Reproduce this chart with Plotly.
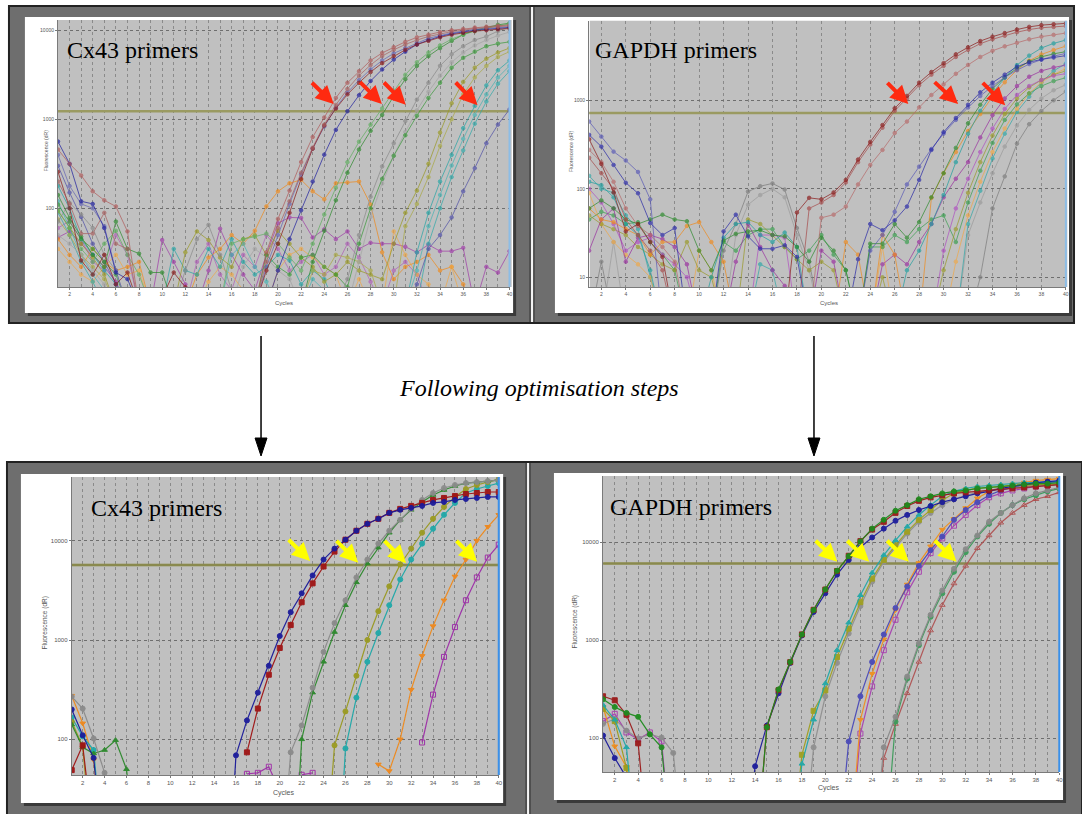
import plotly.graph_objects as go

W, H = 1082, 814
CYCLES = list(range(1, 41))

# ---------------- Top-left: Cx43 primers (before optimisation) ----------------
tl_brown1 = [457, 316, 234, 155, 123, 105, 55, 8, 8, 8,
             8, 8, 8, 8, 8, 8, 8, 8, 32, 76,
             158, 331, 631, 1047, 1738, 2570, 3467, 4571, 5559, 6457,
             7413, 8318, 8913, 9550, 10000, 10350, 10720, 10960, 11220, 11480]
tl_brown2 = [200, 112, 52, 52, 89, 40, 35, 8, 8, 8,
             8, 8, 8, 8, 8, 8, 8, 8, 25, 60,
             120, 250, 480, 870, 1450, 2190, 3090, 4070, 5130, 6030,
             6920, 7760, 8510, 9120, 9660, 10000, 10470, 10720, 10960, 11220]
tl_darkred = [257, 100, 26, 18, 30, 14, 19, 8, 8, 10,
              19, 13, 8, 8, 8, 8, 8, 8, 20, 40,
              89, 214, 468, 851, 1318, 1905, 2570, 3390, 4270, 5130,
              6030, 6920, 7590, 8320, 8910, 9330, 9770, 10000, 10230, 10470]
tl_blue = [562, 316, 120, 112, 60, 19, 16, 8, 8, 8,
           8, 8, 8, 8, 8, 8, 8, 8, 8, 20,
           45, 95, 200, 400, 760, 1230, 1860, 2690, 3630, 4680,
           5750, 6920, 7760, 8510, 9120, 9550, 10000, 10230, 10470, 10720]
tl_indigo = [398, 178, 112, 100, 63, 20, 8, 8, 8, 8,
             8, 8, 8, 8, 8, 8, 8, 8, 22, 50,
             112, 240, 470, 830, 1350, 2000, 2750, 3630, 4570, 5500,
             6310, 7240, 8130, 8710, 9330, 9770, 10230, 10470, 10720, 10960]
tl_green1 = [141, 78, 48, 30, 22, 71, 35, 31, 19, 19,
             8, 8, 8, 8, 8, 8, 8, 8, 8, 8,
             8, 8, 25, 56, 123, 251, 457, 741, 1120, 1820,
             2820, 3980, 5130, 6310, 7590, 8910, 10000, 10720, 11480, 12020]
tl_green2 = [95, 60, 35, 25, 40, 56, 30, 18, 8, 8,
             8, 8, 8, 8, 8, 40, 45, 48, 52, 40,
             28, 20, 40, 85, 170, 330, 560, 870, 1320, 2090,
             3160, 4370, 5620, 6760, 7940, 8910, 9770, 10470, 11220, 11750]
tl_gray1 = [71, 115, 85, 60, 30, 20, 8, 8, 8, 8,
            8, 20, 45, 65, 30, 12, 8, 8, 8, 8,
            8, 8, 8, 8, 8, 16, 50, 135, 295, 537,
            955, 1660, 2570, 3980, 5370, 6610, 7760, 8510, 9770, 10960]
tl_gray2 = [50, 40, 30, 20, 14, 8, 8, 8, 8, 8,
            8, 8, 8, 8, 8, 8, 22, 35, 28, 20,
            16, 8, 8, 8, 8, 8, 25, 80, 190, 390,
            720, 1260, 2040, 3090, 4370, 5620, 6760, 7760, 8710, 9550]
tl_green3 = [110, 70, 45, 35, 25, 18, 8, 8, 8, 8,
             8, 8, 8, 8, 8, 8, 8, 8, 30, 22,
             18, 28, 30, 22, 18, 13, 40, 100, 214, 389,
             661, 1096, 1738, 2570, 3800, 4900, 5750, 6610, 7080, 7410]
tl_olive1 = [93, 60, 40, 28, 18, 8, 8, 8, 8, 8,
             8, 32, 55, 44, 28, 22, 45, 50, 30, 56,
             40, 28, 22, 15, 18, 25, 20, 18, 16, 40,
             89, 158, 316, 708, 1510, 2630, 3800, 4790, 5620, 6310]
tl_olive2 = [75, 50, 30, 22, 16, 8, 8, 8, 8, 8,
             8, 8, 8, 8, 8, 8, 8, 8, 8, 8,
             8, 8, 20, 18, 30, 28, 25, 20, 8, 8,
             63, 112, 224, 501, 1000, 1900, 2950, 3980, 5010, 5750]
tl_cyan1 = [178, 100, 45, 30, 20, 14, 8, 8, 8, 8,
            35, 20, 18, 35, 22, 45, 25, 18, 22, 30,
            26, 14, 20, 16, 8, 8, 8, 8, 8, 8,
            8, 32, 89, 200, 398, 794, 1410, 2400, 3550, 4570]
tl_cyan2 = [120, 60, 30, 18, 12, 8, 8, 8, 8, 8,
            8, 8, 8, 8, 8, 30, 40, 22, 15, 8,
            8, 8, 16, 12, 8, 8, 8, 8, 8, 8,
            8, 20, 63, 141, 302, 603, 1120, 1900, 2950, 3980]
tl_cyan3 = [90, 50, 25, 15, 8, 8, 8, 8, 8, 8,
            8, 8, 8, 8, 8, 8, 8, 8, 8, 8,
            8, 8, 8, 8, 8, 8, 8, 8, 8, 8,
            8, 8, 40, 100, 224, 447, 891, 1580, 2510, 3470]
tl_indigo2 = [300, 150, 80, 40, 25, 14, 8, 8, 8, 8,
              8, 8, 8, 8, 8, 8, 8, 8, 8, 8,
              8, 8, 8, 8, 8, 8, 8, 8, 8, 8,
              8, 14, 35, 50, 79, 155, 282, 537, 871, 1290]
tl_purple1 = [47, 55, 40, 30, 22, 15, 8, 8, 8, 44,
              25, 14, 8, 20, 59, 30, 18, 12, 30, 68,
              79, 78, 47, 58, 45, 55, 35, 41, 40, 40,
              37, 32, 39, 33, 33, 36, 8, 22, 19, 33]
tl_purple2 = [60, 72, 45, 25, 20, 50, 30, 8, 8, 8,
              8, 8, 25, 40, 18, 12, 30, 22, 50, 35,
              20, 25, 30, 18, 22, 40, 28, 15, 8, 20,
              25, 18, 8, 8, 8, 8, 8, 8, 8, 12]
tl_orange1 = [45, 30, 22, 35, 25, 20, 22, 25, 8, 8,
              8, 8, 18, 28, 35, 50, 40, 56, 105, 155,
              191, 209, 155, 126, 191, 195, 200, 110, 32, 16,
              22, 25, 30, 20, 22, 14, 8, 8, 8, 8]
tl_orange2 = [35, 25, 18, 15, 22, 30, 18, 20, 8, 8,
              8, 8, 8, 15, 22, 18, 12, 8, 8, 20,
              30, 35, 28, 22, 18, 8, 16, 8, 8, 55,
              30, 18, 14, 8, 22, 8, 8, 8, 8, 8]

TL_SERIES = [tl_purple1, tl_purple2, tl_orange1, tl_orange2, tl_cyan1, tl_cyan2, tl_cyan3,
             tl_olive1, tl_olive2, tl_indigo2, tl_gray1, tl_gray2, tl_green3, tl_green1, tl_green2,
             tl_indigo, tl_blue, tl_darkred, tl_brown2, tl_brown1]
TL_COLORS = ['#a03ca8', '#b060b8', '#f08a1c', '#f0a848', '#26a6a6', '#48b4b4', '#30aaaa',
             '#9a9a24', '#aaaa44', '#5050a8', '#8a8a8a', '#a4a4a4', '#3a9a3a', '#2e8b2e', '#60b060',
             '#6464b4', '#2020a0', '#8b1a1a', '#a86060', '#b05a5a']
TL_THRESHOLD = 1230

# ---------------- Top-right: GAPDH primers (before optimisation) ----------------
tr_brown1 = [363, 191, 91, 33, 40, 25, 17, 3, 3, 3,
             3, 3, 3, 3, 3, 3, 3, 54, 79, 76,
             91, 126, 214, 339, 525, 813, 1122, 1585, 2089, 2630,
             3311, 3981, 4677, 5248, 5754, 6310, 6761, 7079, 7244, 7413]
tr_brown2 = [224, 150, 100, 45, 30, 20, 12, 3, 3, 3,
             3, 3, 3, 3, 3, 3, 3, 3, 60, 70,
             85, 118, 200, 316, 490, 760, 1050, 1480, 1950, 2450,
             3090, 3720, 4370, 4900, 5370, 5890, 6310, 6610, 6760, 6920]
tr_brown3 = [275, 200, 120, 60, 38, 30, 22, 15, 3, 3,
             3, 3, 3, 3, 3, 3, 3, 3, 3, 47,
             51, 63, 112, 186, 275, 427, 575, 832, 1148, 1514,
             1995, 2512, 3090, 3631, 4074, 4467, 4898, 5248, 5495, 5754]
tr_blue1 = [407, 300, 186, 117, 89, 41, 30, 36, 3, 3,
            3, 33, 51, 29, 21, 21, 23, 17, 3, 3,
            3, 3, 16, 40, 34, 44, 63, 126, 275, 437,
            631, 891, 1230, 1585, 1950, 2400, 2700, 2900, 3050, 3200]
tr_blue2 = [575, 389, 263, 209, 155, 76, 3, 3, 3, 3,
            3, 3, 3, 3, 3, 3, 3, 3, 3, 3,
            3, 3, 3, 20, 30, 55, 112, 178, 282, 420,
            600, 830, 1120, 1450, 1820, 2190, 2570, 2880, 3160, 3390]
tr_green1 = [60, 74, 60, 45, 40, 45, 51, 45, 43, 20,
             12, 26, 31, 33, 34, 30, 29, 22, 15, 28,
             20, 12, 3, 24, 24, 40, 28, 42, 80, 150,
             290, 550, 890, 1350, 1820, 2300, 2750, 3100, 3350, 3550]
tr_teal1 = [120, 110, 80, 40, 30, 12, 3, 3, 3, 3,
            10, 28, 40, 42, 30, 25, 32, 22, 3, 3,
            3, 3, 3, 3, 3, 3, 12, 20, 40, 85,
            200, 420, 760, 1200, 1800, 2500, 3200, 3900, 4400, 4800]
tr_orange1 = [60, 45, 42, 35, 30, 18, 25, 25, 38, 42,
              25, 15, 3, 3, 3, 3, 3, 3, 3, 3,
              3, 25, 18, 3, 30, 18, 3, 3, 79, 150,
              260, 450, 700, 1100, 1600, 2200, 2800, 3300, 3700, 4100]
tr_purple1 = [20, 45, 60, 15, 28, 30, 27, 22, 14, 3,
              3, 3, 15, 40, 22, 12, 8, 3, 3, 20,
              15, 3, 3, 3, 14, 18, 14, 25, 40, 80,
              130, 200, 380, 680, 1050, 1450, 1850, 2150, 2350, 2500]
tr_purple2 = [100, 70, 40, 20, 25, 28, 18, 14, 10, 3,
              3, 3, 3, 3, 30, 30, 28, 3, 3, 3,
              3, 3, 3, 3, 3, 3, 3, 3, 3, 20,
              60, 130, 260, 480, 800, 1150, 1450, 1700, 1900, 2000]
tr_olive1 = [50, 40, 35, 30, 22, 18, 14, 12, 25, 12,
             10, 3, 3, 45, 40, 30, 22, 16, 12, 15,
             12, 3, 3, 3, 10, 3, 3, 3, 3, 12,
             35, 90, 200, 400, 700, 1050, 1400, 1700, 1950, 2150]
tr_green2 = [45, 55, 50, 40, 42, 25, 18, 12, 3, 3,
             3, 25, 20, 30, 35, 35, 22, 16, 20, 30,
             18, 12, 3, 22, 22, 30, 25, 35, 45, 50,
             25, 70, 160, 330, 600, 900, 1200, 1450, 1650, 1800]
tr_orange2 = [90, 40, 25, 18, 14, 10, 3, 3, 3, 20,
              12, 3, 3, 3, 3, 3, 3, 3, 3, 3,
              3, 3, 3, 3, 22, 3, 3, 3, 3, 3,
              15, 50, 120, 260, 480, 800, 1200, 1600, 1950, 2300]
tr_teal2 = [140, 100, 90, 50, 35, 10, 3, 3, 3, 3,
            3, 3, 3, 3, 14, 12, 3, 3, 3, 3,
            3, 3, 3, 3, 3, 3, 3, 3, 3, 3,
            3, 40, 95, 220, 420, 740, 1100, 1600, 2150, 2600]
tr_gray1 = [3, 15, 3, 3, 3, 3, 3, 3, 3, 3,
            3, 20, 40, 93, 107, 115, 98, 36, 15, 3,
            3, 3, 3, 3, 3, 3, 3, 3, 3, 3,
            3, 3, 10, 60, 138, 324, 537, 759, 1000, 1260]
tr_gray2 = [3, 3, 25, 3, 3, 3, 3, 3, 3, 3,
            3, 3, 30, 66, 85, 100, 80, 30, 12, 3,
            3, 3, 3, 3, 3, 3, 3, 3, 3, 3,
            3, 30, 70, 150, 300, 520, 780, 1050, 1300, 1500]

TR_SERIES = [tr_gray1, tr_gray2, tr_teal2, tr_orange2, tr_green2, tr_olive1, tr_purple2, tr_purple1,
             tr_orange1, tr_teal1, tr_green1, tr_blue2, tr_blue1, tr_brown3, tr_brown2, tr_brown1]
TR_COLORS = ['#7c7c7c', '#9c9c9c', '#30a8a8', '#f0a848', '#3aa050', '#9a9a2a', '#b050c0', '#9a30a0',
             '#f08c1e', '#20a0a0', '#2e8b2e', '#5a5ab8', '#2a2aa8', '#b86a6a', '#a84c4c', '#8b1a1a']
TR_THRESHOLD = 720

# ---------------- Bottom-left: Cx43 primers (after optimisation) ----------------
bl_blue = [200, 110, 65, 5, None, None, None, None, None, None,
           None, None, None, None, 1, 69, 155, 295, 550, 1096,
           1905, 2951, 4467, 6457, 8318, 10230, 12590, 14790, 16600, 19050,
           20420, 21380, 22390, 23990, 24550, 25700, 26300, 26920, 27540, 27540]
bl_red = [49, 87, 10, None, None, None, None, None, None, None,
          None, None, None, None, None, None, 74, 204, 447, 832,
          1413, 2399, 3715, 5495, 7762, 10230, 12590, 14790, 16600, 19050,
          20890, 22390, 23990, 25700, 26920, 28180, 29510, 30200, 30900, 30900]
bl_gray = [269, 204, 102, 46, 5, None, None, None, None, None,
           None, None, None, None, None, None, None, None, None, 3,
           74, 138, 331, 759, 1479, 2512, 4266, 6457, 9333, 12590,
           16220, 20890, 25700, 30200, 33880, 36310, 38020, 38900, 39810, 40740]
bl_green = [141, 83, 72, 78, 98, 50, 5, None, None, None,
            None, None, None, None, None, None, None, None, None, None,
            1, 100, 295, 603, 1202, 2239, 3802, 5888, 8511, 12020,
            16220, 20420, 24550, 28840, 32360, 35480, 38020, 38900, 39810, 40740]
bl_olive = [150, 85, 5, None, None, None, None, None, None, None,
            None, None, None, None, None, None, None, None, None, None,
            None, None, None, 3, 87, 191, 437, 1000, 1950, 3467,
            5754, 8318, 12020, 16600, 21880, 27540, 33110, 36310, 38900, 41690]
bl_cyan = [166, 107, 78, 5, None, None, None, None, None, None,
           None, None, None, None, None, None, None, None, None, None,
           None, None, None, None, 1, 81, 263, 603, 1175, 2239,
           4074, 6457, 9333, 13180, 18200, 23990, 30200, 33110, 35480, 38020]
bl_orange = [275, 145, 62, 5, None, None, None, None, None, None,
             None, None, None, None, None, None, None, None, None, None,
             None, None, None, None, None, None, None, None, 56, 48,
             100, 316, 692, 1380, 2512, 4365, 6457, 10000, 13800, 18200]
bl_purple = [None, None, None, None, None, None, None, None, None, None,
             None, None, None, None, None, None, 45, 46, 53, 30,
             None, 44, 46, None, None, None, None, None, None, None,
             None, None, 93, 282, 676, 1349, 2512, 4266, 6761, 9120]

BL_SERIES = [bl_purple, bl_orange, bl_cyan, bl_olive, bl_green, bl_gray, bl_red, bl_blue]
BL_COLORS = ['#a030a8', '#f08c1e', '#20a8a8', '#9a9a22', '#2e8b2e', '#8c8c8c', '#a01515', '#1a1a9a']
BL_SYMBOLS = ['square-open', 'triangle-down', 'circle', 'circle', 'triangle-up', 'circle', 'square', 'circle']
BL_THRESHOLD = 5690

# ---------------- Bottom-right: GAPDH primers (after optimisation) ----------------
br_green1 = [251, 209, 182, 166, 110, 81, 5, None, None, None,
             None, None, None, 5, 130, 316, 603, 1148, 2042, 3311,
             5129, 7244, 10230, 13800, 17000, 21000, 24000, 27500, 29500, 31600,
             33100, 33900, 35500, 36300, 37100, 38000, 38900, 39800, 39800, 40700]
br_red = [269, 245, 174, 89, 5, None, None, None, None, None,
          None, None, None, 5, 130, 310, 600, 1150, 2050, 3300,
          5100, 7300, 10300, 13500, 16200, 20000, 23500, 26500, 28800, 30200,
          31600, 32400, 33100, 33900, 34700, 35500, 36300, 37100, 38000, 38900]
br_blue = [107, 63, 40, 5, None, None, None, None, None, None,
           None, None, 5, 52, 135, 288, 589, 1122, 1950, 3020,
           4677, 6607, 8913, 11220, 13800, 16600, 19050, 21380, 23440, 25700,
           27540, 29510, 31620, 33110, 35480, 37150, 38900, 40740, 41690, 42660]
br_cyan = [219, 155, 81, 5, None, None, None, None, None, None,
           None, None, None, None, None, None, 5, 55, 155, 363,
           794, 1514, 2884, 4898, 7413, 10470, 14450, 19050, 23990, 29510,
           33110, 35480, 37150, 38020, 38900, 39810, 40740, 40740, 41690, 41690]
br_olive = [200, 150, 50, 5, None, None, None, None, None, None,
            None, None, None, None, None, None, 5, 68, 191, 309,
            676, 1318, 2455, 4266, 6607, 9333, 12880, 16980, 21380, 26920,
            31620, 33880, 35480, 36310, 37150, 38020, 38020, 38900, 38900, 39810]
br_gray = [141, 158, 120, 100, 110, 102, 71, 5, None, None,
           None, None, None, None, None, None, None, 5, 81, 269,
           589, 1175, 2239, 3981, 6310, 8913, 12300, 16220, 19950, 23990,
           27540, 30200, 32360, 33880, 35480, 36310, 37150, 38020, 38020, 38900]
br_indigo = [None, None, None, None, None, None, None, None, None, None,
             None, None, None, None, None, None, None, None, None, None,
             5, 93, 269, 603, 1148, 2138, 3548, 5754, 8318, 11480,
             16980, 21380, 25700, 30200, 33880, 36310, 38020, 39810, 40740, 41690]
br_orange = [209, 83, 51, 5, None, None, None, None, None, None,
             None, None, None, None, None, None, None, None, None, None,
             None, 5, 155, 457, 1023, 2042, 3715, 6166, 9120, 13490,
             17380, 22390, 28180, 33110, 36310, 38900, 40740, 42660, 43650, 44670]
br_purple = [150, 178, 115, 98, 115, 93, 5, None, None, None,
             None, None, None, None, None, None, None, None, None, None,
             None, 5, 112, 339, 794, 1622, 3090, 5012, 7762, 10960,
             14790, 19050, 23990, 28840, 31620, 33880, 35480, 37150, 38020, 39810]
br_gray2 = [None, None, None, None, None, None, None, None, None, None,
            None, None, None, None, None, None, None, None, None, None,
            None, None, None, 5, 81, 166, 427, 933, 1820, 3236,
            5370, 8511, 11750, 16220, 19950, 23990, 28180, 31620, 33880, 36310]
br_green2 = [None, None, None, None, None, None, None, None, None, None,
             None, None, None, None, None, None, None, None, None, None,
             None, None, None, None, 5, 148, 407, 891, 1738, 3020,
             5012, 7943, 11480, 15490, 19950, 23990, 27540, 30200, 33110, 35480]
br_brown = [None, None, None, None, None, None, None, None, None, None,
            None, None, None, None, None, None, None, None, None, None,
            None, None, None, 5, 63, 140, 288, 603, 1259, 2291,
            3802, 5754, 8710, 11750, 15850, 19950, 23990, 27540, 29510, 32360]

BR_SERIES = [br_brown, br_green2, br_gray2, br_purple, br_orange, br_indigo, br_gray, br_olive,
             br_cyan, br_blue, br_red, br_green1]
BR_COLORS = ['#b05454', '#3c9c5a', '#8a8a8a', '#a840b0', '#f0901e', '#4a4ab8', '#909090', '#a0a020',
             '#20a8a8', '#1c1c9c', '#9b1b1b', '#1e8c1e']
BR_SYMBOLS = ['triangle-up-open', 'circle', 'circle', 'square-open', 'triangle-down', 'circle', 'circle', 'square',
              'triangle-up', 'circle', 'square', 'circle']
BR_THRESHOLD = 6100

for s in TL_SERIES + TR_SERIES + BL_SERIES + BR_SERIES:
    assert len(s) == 40, len(s)


def px_x(x):
    return x / W


def px_y(y):
    return 1 - y / H


fig = go.Figure()

# ---- panel geometry (pixels) ----
PANELS = {
    'tl': dict(xa='x', ya='y', xdom=(58.2, 511.4), ydom=(20, 287), yr=[1.116, 4.115],
               yt=[100, 1000, 10000], every=1, fs=5),
    'tr': dict(xa='x2', ya='y2', xdom=(591.3, 1069.8), ydom=(20.7, 287), yr=[0.89, 3.9],
               yt=[10, 100, 1000], every=2, fs=5),
    'bl': dict(xa='x3', ya='y3', xdom=(72, 500.6), ydom=(477, 775), yr=[1.641, 4.641],
               yt=[100, 1000, 10000], every=1, fs=6),
    'br': dict(xa='x4', ya='y4', xdom=(605.3, 1063.2), ydom=(476, 772), yr=[1.657, 4.677],
               yt=[100, 1000, 10000], every=1, fs=6),
}

layout_axes = {}
for key, p in PANELS.items():
    xname = 'xaxis' + p['xa'][1:]
    yname = 'yaxis' + p['ya'][1:]
    even = list(range(2, 41, 2))
    xd = dict(domain=[px_x(p['xdom'][0]), px_x(p['xdom'][1])], range=[1, 40], anchor=p['ya'],
              tickmode='array', tickvals=even, ticktext=[str(v) for v in even],
              tickfont=dict(size=p['fs'], color='#555555', family='Liberation Sans'),
              showgrid=True, gridcolor='#8a8a8a', griddash='dot', gridwidth=1,
              showline=True, linecolor='#7a7a7a', linewidth=1, ticks='outside', ticklen=2,
              tickcolor='#7a7a7a', zeroline=False, fixedrange=True)
    if p['every'] == 1:
        xd['minor'] = dict(tickmode='array', tickvals=list(range(1, 41, 2)), showgrid=True,
                           gridcolor='#8a8a8a', griddash='dot', gridwidth=1, ticks='')
    yd = dict(domain=[px_y(p['ydom'][1]), px_y(p['ydom'][0])], type='log', range=p['yr'],
              anchor=p['xa'], tickmode='array', tickvals=p['yt'], ticktext=[str(v) for v in p['yt']],
              tickfont=dict(size=p['fs'], color='#555555', family='Liberation Sans'),
              showgrid=True, gridcolor='#6e6e6e', griddash='dot', gridwidth=1,
              showline=True, linecolor='#7a7a7a', linewidth=1, ticks='outside', ticklen=2,
              tickcolor='#7a7a7a', zeroline=False, fixedrange=True)
    layout_axes[xname] = xd
    layout_axes[yname] = yd


def add_threshold(p, value, color, width):
    fig.add_trace(go.Scatter(x=[1, 40], y=[value, value], mode='lines', xaxis=p['xa'], yaxis=p['ya'],
                             line=dict(color=color, width=width), showlegend=False, hoverinfo='skip'))


def add_series(p, series, colors, symbols, msize, lw, opac):
    for vals, col, sym in zip(series, colors, symbols):
        fig.add_trace(go.Scatter(x=CYCLES, y=vals, mode='lines+markers', xaxis=p['xa'], yaxis=p['ya'],
                                 line=dict(color=col, width=lw),
                                 marker=dict(color=col, size=msize, symbol=sym, line=dict(width=1, color=col)),
                                 opacity=opac, connectgaps=False, showlegend=False, hoverinfo='skip'))


add_threshold(PANELS['tl'], TL_THRESHOLD, '#9a9a62', 2.5)
add_series(PANELS['tl'], TL_SERIES, TL_COLORS, ['circle'] * len(TL_SERIES), 3.5, 1, 0.7)
add_threshold(PANELS['tr'], TR_THRESHOLD, '#9a9a62', 2.5)
add_series(PANELS['tr'], TR_SERIES, TR_COLORS, ['circle'] * len(TR_SERIES), 3.5, 1, 0.7)
add_threshold(PANELS['bl'], BL_THRESHOLD, '#8a8a50', 2.5)
add_series(PANELS['bl'], BL_SERIES, BL_COLORS, BL_SYMBOLS, 5, 1.2, 0.95)
add_threshold(PANELS['br'], BR_THRESHOLD, '#8a8a50', 2.5)
add_series(PANELS['br'], BR_SERIES, BR_COLORS, BR_SYMBOLS, 5, 1.2, 0.95)

shapes = []


def rect(x0, y0, x1, y1, fill, line_color=None, lw=0, layer='below'):
    shapes.append(dict(type='rect', xref='paper', yref='paper', x0=px_x(x0), x1=px_x(x1),
                       y0=px_y(y1), y1=px_y(y0), fillcolor=fill,
                       line=dict(color=line_color or fill, width=lw), layer=layer))


def vline(x, y0, y1, color, lw, layer='below'):
    shapes.append(dict(type='line', xref='paper', yref='paper', x0=px_x(x), x1=px_x(x),
                       y0=px_y(y0), y1=px_y(y1), line=dict(color=color, width=lw), layer=layer))


# outer dark frames
rect(9, 6, 1078, 323, '#6e6e6e', '#222222', 2)
rect(7, 462, 1086, 820, '#6e6e6e', '#222222', 2)
# dividers
vline(532, 7, 322, '#333333', 1)
vline(536, 7, 322, '#333333', 1)
vline(534, 7, 322, '#f4f4f4', 2)
vline(528, 463, 814, '#333333', 1)
vline(532, 463, 814, '#333333', 1)
vline(530, 463, 814, '#f4f4f4', 2)
# shadows and white boxes
for (x0, y0, x1, y1) in [(25, 17, 515, 313), (557, 17, 1073, 313), (21, 474, 505, 803), (556, 473, 1067, 800)]:
    rect(x0 + 3, y0 + 3, x1 + 3, y1 + 3, '#3a3a3a')
    rect(x0, y0, x1, y1, '#ffffff')
# gray plot areas
for (x0, y0, x1, y1) in [(57.8, 20, 513.6, 287), (592, 20.7, 1071.3, 287), (71.6, 477, 502, 775), (605, 476, 1064, 772)]:
    rect(x0, y0, x1, y1, '#c0c0c0')

# blue end-of-run line at cycle 40
for key, col in [('tl', '#8cbde6'), ('tr', '#8cbde6'), ('bl', '#3a90ea'), ('br', '#3a90ea')]:
    p = PANELS[key]
    shapes.append(dict(type='line', xref=p['xa'] + ' domain', yref=p['ya'] + ' domain', x0=1, x1=1, y0=0, y1=1,
                       line=dict(color=col, width=2), layer='above'))

# down arrows between rows
for ax_x in (262, 817):
    vline(ax_x, 336, 440, '#000000', 1.5, layer='above')
    shapes.append(dict(type='path', xref='paper', yref='paper',
                       path=f'M {px_x(ax_x - 6)} {px_y(438)} L {px_x(ax_x + 6)} {px_y(438)} L {px_x(ax_x)} {px_y(456)} Z',
                       fillcolor='#000000', line=dict(color='#000000', width=1), layer='above'))

annotations = []


def text(x, y, s, size, family='Liberation Serif', color='#000000', angle=0, xanchor='left'):
    annotations.append(dict(x=px_x(x), y=px_y(y), xref='paper', yref='paper', text=s, showarrow=False,
                            font=dict(size=size, family=family, color=color), xanchor=xanchor,
                            yanchor='middle', textangle=angle))


def arrow(tail, tip, color, width, size):
    annotations.append(dict(x=px_x(tip[0]), y=px_y(tip[1]), xref='paper', yref='paper',
                            ax=tail[0] - tip[0], ay=tail[1] - tip[1], showarrow=True, text='',
                            arrowhead=2, arrowsize=size, arrowwidth=width, arrowcolor=color))


text(65, 50.5, 'Cx43 primers', 24)
text(595, 50.5, 'GAPDH primers', 24)
text(89, 508, 'Cx43 primers', 24)
text(610, 507, 'GAPDH primers', 24)
text(541, 388, '<i>Following optimisation steps</i>', 24, xanchor='center')

text(285, 302.5, 'Cycles', 6, family='Liberation Sans', color='#555555', xanchor='center')
text(832, 302.5, 'Cycles', 6, family='Liberation Sans', color='#555555', xanchor='center')
text(285.5, 792.5, 'Cycles', 7, family='Liberation Sans', color='#555555', xanchor='center')
text(832, 788, 'Cycles', 7, family='Liberation Sans', color='#555555', xanchor='center')
text(46.5, 151, 'Fluorescence (dR)', 5, family='Liberation Sans', color='#555555', angle=-90, xanchor='center')
text(573, 151, 'Fluorescence (dR)', 5, family='Liberation Sans', color='#555555', angle=-90, xanchor='center')
text(44.7, 623, 'Fluorescence (dR)', 6.5, family='Liberation Sans', color='#555555', angle=-90, xanchor='center')
text(577.6, 622, 'Fluorescence (dR)', 6.5, family='Liberation Sans', color='#555555', angle=-90, xanchor='center')

RED = '#ff2a10'
YEL = '#ffff00'
for tail, tip in [((311.7, 81.3), (335, 104)), ((360, 80.7), (383.3, 104)), ((384, 81), (407.3, 104.7)),
                  ((456, 81), (479.3, 105.3)), ((889.3, 81.3), (911.7, 104)), ((936.7, 80.7), (961.7, 104)),
                  ((985, 81.3), (1009, 105.3))]:
    arrow(tail, tip, RED, 4, 0.9)
for tail, tip in [((288.3, 538.3), (311.3, 561)), ((336.4, 539.3), (359.5, 562.7)), ((384.6, 539.3), (407.6, 563.3)),
                  ((456.8, 539.3), (478.8, 561.7)), ((817.3, 539.3), (840.4, 561.7)), ((849, 539.3), (872.4, 561.7)),
                  ((889, 539.3), (912.2, 561.7)), ((937, 539.3), (960.1, 561.7))]:
    arrow(tail, tip, YEL, 4, 0.9)

fig.update_layout(width=W, height=H, margin=dict(l=0, r=0, t=0, b=0), autosize=False,
                  paper_bgcolor='#ffffff', plot_bgcolor='rgba(0,0,0,0)', showlegend=False,
                  shapes=shapes, annotations=annotations, **layout_axes)

fig.write_html('out.html')
